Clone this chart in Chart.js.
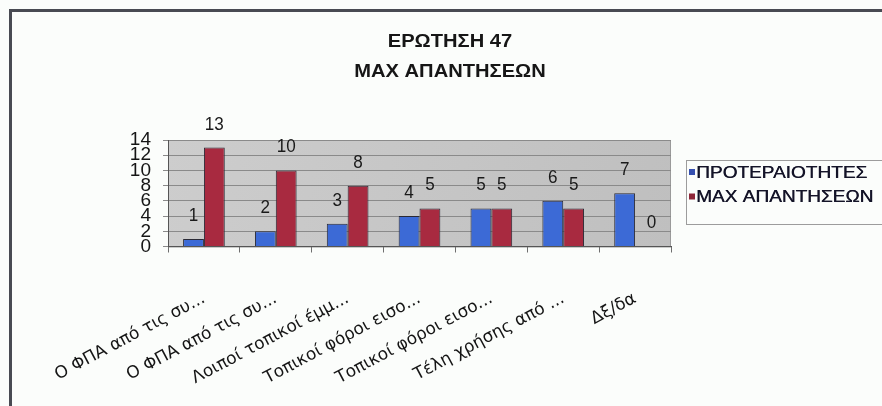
<!DOCTYPE html>
<html>
<head>
<meta charset="utf-8">
<script src="https://cdn.jsdelivr.net/npm/chart.js@4/dist/chart.umd.min.js"></script>
<style>
  html, body { margin: 0; padding: 0; background: #fbfdfb; overflow: hidden; }
  #wrap { position: relative; width: 882px; height: 406px; }
  canvas { position: absolute; left: 0; top: 0; }
  .frameTop { position: absolute; left: 9px; top: 9px; width: 873px; height: 3px; background: #484a52; }
  .frameLeft { position: absolute; left: 9px; top: 9px; width: 3px; height: 397px; background: #484a52; }
</style>
</head>
<body>
<div id="wrap">
  <canvas id="c" width="882" height="406"></canvas>
  <div class="frameTop"></div>
  <div class="frameLeft"></div>
</div>
<script>
const titleLines = ["ΕΡΩΤΗΣΗ 47", "ΜΑΧ ΑΠΑΝΤΗΣΕΩΝ"];
const categories = [
  "Ο ΦΠΑ από τις συ...",
  "Ο ΦΠΑ από τις συ...",
  "Λοιποί τοπικοί έμμ...",
  "Τοπικοί φόροι εισο...",
  "Τοπικοί φόροι εισο...",
  "Τέλη χρήσης από ...",
  "Δξ/δα"
];
const seriesNames = ["ΠΡΟΤΕΡΑΙΟΤΗΤΕΣ", "ΜΑΧ ΑΠΑΝΤΗΣΕΩΝ"];
const priorities = [1, 2, 3, 4, 5, 6, 7];
const maxAnswers = [13, 10, 8, 5, 5, 5, 0];
const yMin = 0, yMax = 14, yStep = 2;

const W = 882, H = 406;
const plotLeft = 168, plotRight = 671, plotTop = 140, plotBottom = 246.5;

const wallPlugin = {
  id: 'wall',
  beforeDraw(chart) {
    const { ctx, chartArea: a } = chart;
    ctx.save();
    const g = ctx.createLinearGradient(a.left, a.top, a.right, a.bottom);
    g.addColorStop(0, '#cdcdcd');
    g.addColorStop(1, '#bfbfbf');
    ctx.fillStyle = g;
    ctx.fillRect(a.left, a.top, a.right - a.left, a.bottom - a.top);
    ctx.strokeStyle = '#9a9a9a';
    ctx.lineWidth = 1;
    ctx.strokeRect(a.left + 0.5, a.top + 0.5, a.right - a.left - 1, a.bottom - a.top);
    ctx.restore();
  }
};

const textPlugin = {
  id: 'texts',
  afterDatasetsDraw(chart) {
    const { ctx } = chart;
    ctx.save();
    // value labels
    ctx.fillStyle = '#1a1a1a';
    ctx.font = '18px "Liberation Sans", Arial, sans-serif';
    ctx.textAlign = 'center';
    ctx.textBaseline = 'middle';
    chart.data.datasets.forEach((ds, di) => {
      const meta = chart.getDatasetMeta(di);
      meta.data.forEach((el, i) => {
        ctx.save();
        ctx.translate(el.x + (di === 1 && ds.data[i] === 0 ? 6 : 0), el.y - 23);
        ctx.scale(0.95, 1);
        ctx.fillText(String(ds.data[i]), 0, 0);
        ctx.restore();
      });
    });
    // title
    ctx.fillStyle = '#161616';
    ctx.font = 'bold 19px "Liberation Sans", Arial, sans-serif';
    titleLines.forEach((t, i) => {
      ctx.save();
      ctx.translate(450, 42 + i * 30);
      ctx.scale(1.06, 1);
      ctx.fillText(t, 0, 0);
      ctx.restore();
    });
    // legend
    ctx.strokeStyle = '#9c9c9c';
    ctx.lineWidth = 1;
    ctx.strokeRect(686.5, 160.5, 240, 64);
    ctx.textAlign = 'left';
    ctx.font = '17px "Liberation Sans", Arial, sans-serif';
    const markColors = ['#3550b0', '#8e2638'];
    chart.data.datasets.forEach((ds, di) => {
      const cy = 172 + di * 24.5;
      ctx.fillStyle = markColors[di];
      ctx.fillRect(689, cy - 3, 6, 6);
      ctx.fillStyle = '#141428';
      ctx.save();
      ctx.translate(696, cy + 1);
      ctx.scale(1.12, 1);
      ctx.fillText(ds.label, 0, 0);
      ctx.fillText(ds.label, 0.4, 0);
      ctx.restore();
    });
    ctx.restore();
  }
};

new Chart(document.getElementById('c'), {
  type: 'bar',
  data: {
    labels: categories,
    datasets: [
      { label: seriesNames[0], data: priorities, backgroundColor: '#3c6ad6', borderColor: '#2a2a35', borderWidth: 1 },
      { label: seriesNames[1], data: maxAnswers, backgroundColor: '#a82a40', borderColor: '#2a2a35', borderWidth: 1 }
    ]
  },
  options: {
    responsive: false,
    devicePixelRatio: 1,
    animation: false,
    events: [],
    layout: { padding: { top: plotTop, right: W - plotRight, left: 0, bottom: 0 } },
    datasets: { bar: { categoryPercentage: 0.58, barPercentage: 1.0 } },
    plugins: { legend: { display: false }, title: { display: false }, tooltip: { enabled: false } },
    scales: {
      x: {
        afterFit(s) { s.height = H - plotBottom; },
        grid: { offset: true, drawOnChartArea: false, drawTicks: true, tickLength: 6, color: '#6e6e6e' },
        border: { display: true, color: '#555' },
        ticks: {
          autoSkip: false, minRotation: 28, maxRotation: 28, padding: 36,
          color: '#151515',
          font: { family: '"DejaVu Sans", Verdana, sans-serif', size: 17 }
        }
      },
      y: {
        min: yMin, max: yMax,
        afterFit(s) { s.width = plotLeft; },
        grid: { color: '#8a8a8a', drawTicks: true, tickLength: 5 },
        border: { display: true, color: '#555' },
        ticks: {
          autoSkip: false, stepSize: yStep, padding: 12, color: '#151515',
          font: { family: '"Liberation Sans Narrow", "Liberation Sans", Arial, sans-serif', size: 19 }
        }
      }
    }
  },
  plugins: [wallPlugin, textPlugin]
});
</script>
</body>
</html>
